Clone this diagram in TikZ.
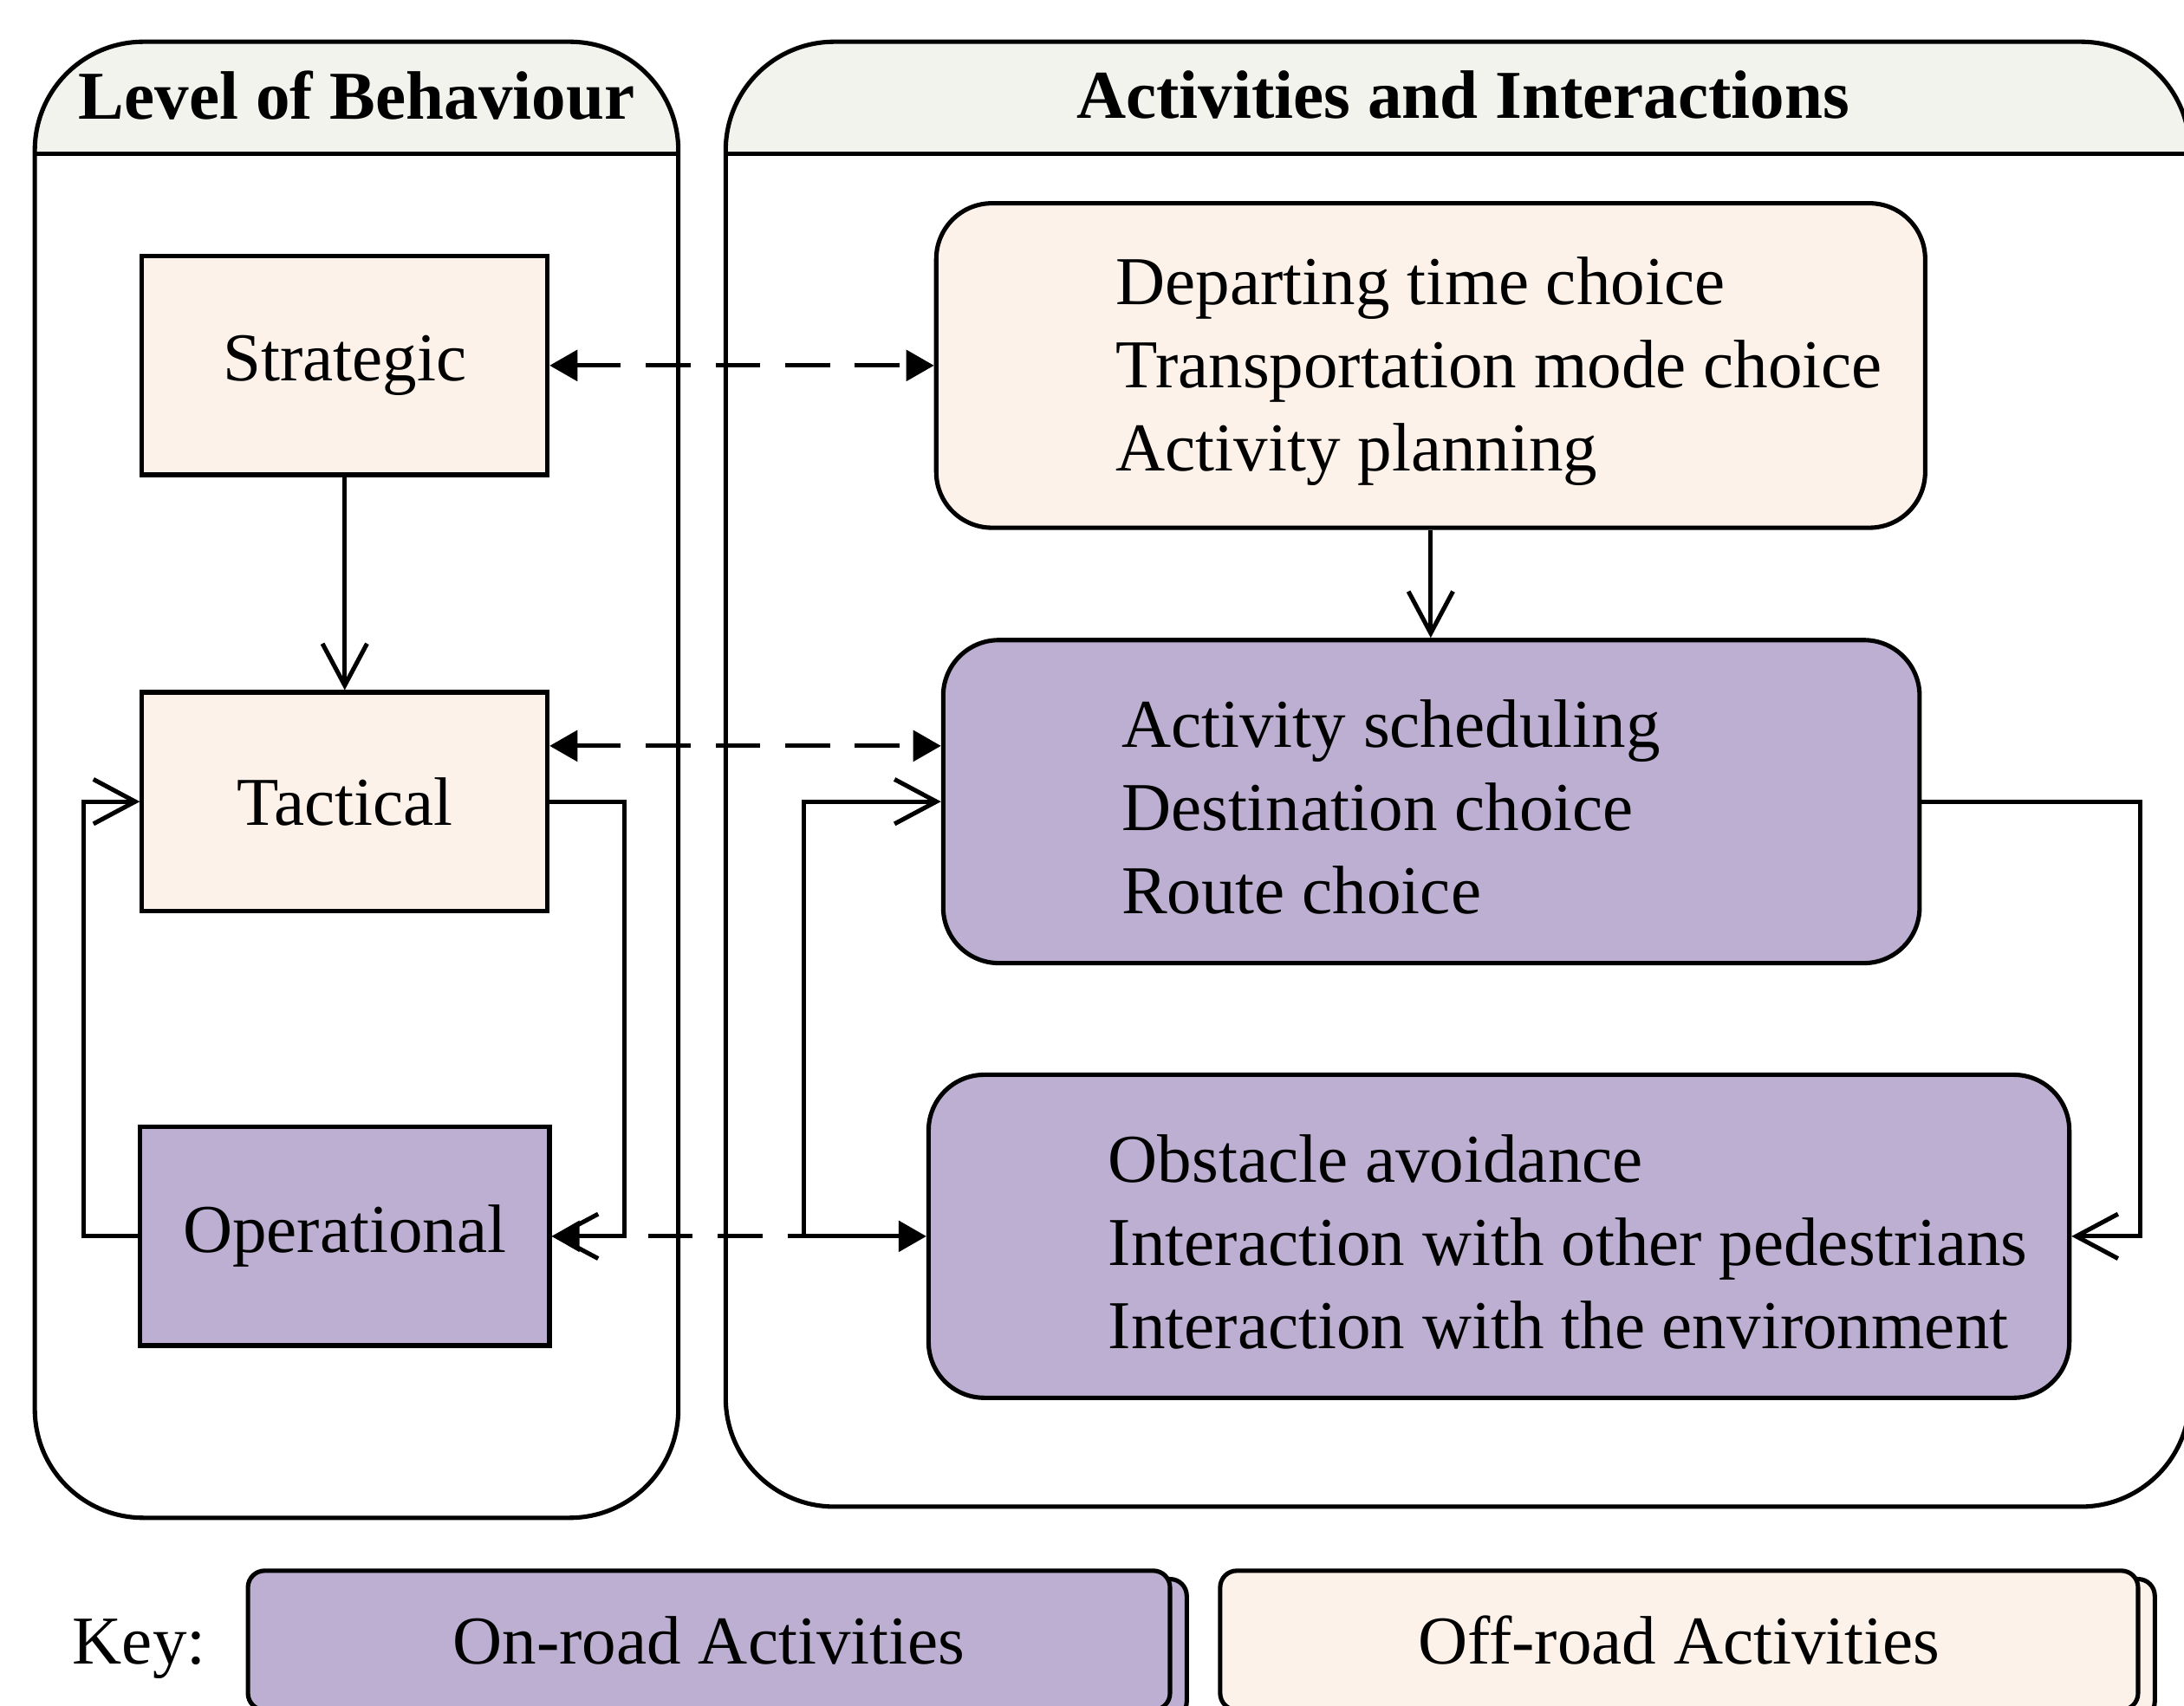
\documentclass[tikz,border=0pt]{standalone}
\usepackage{fontspec}
\setmainfont{Liberation Serif}
\usepackage{xcolor}
\usetikzlibrary{arrows.meta,positioning,calc,backgrounds,shadows}

\definecolor{offroad}{RGB}{253,242,233}
\definecolor{onroad}{RGB}{189,175,209}
\definecolor{hdrgrey}{RGB}{243,243,238}

\begin{document}
\begin{tikzpicture}[
  line width=0.9pt,
  font=\fontsize{14}{17}\selectfont,
  >={Triangle[length=2mm,width=2.2mm]},
  panel/.style={draw, rounded corners=0.78cm, inner sep=0pt},
  hdr/.style={font=\fontsize{14}{17}\selectfont\bfseries},
  lvl/.style={draw, minimum width=2.91cm, minimum height=1.57cm, inner sep=0pt},
  offlvl/.style={lvl, fill=offroad},
  onlvl/.style={lvl, fill=onroad},
  act/.style={draw, rounded corners=0.4cm, minimum height=2.32cm, inner sep=0pt},
  offact/.style={act, fill=offroad},
  onact/.style={act, fill=onroad},
  items/.style={align=left, inner sep=0pt, anchor=west},
  keybox/.style={draw, fill=#1, rounded corners=0.12cm, minimum height=1.0cm,
    copy shadow={shadow xshift=0.12cm, shadow yshift=-0.06cm, fill=#1, draw=black}},
  dashline/.style={dash pattern=on 0.32cm off 0.18cm},
  dasharr/.style={dashline, <->},
  oarr/.style={-{Straight Barb[length=3mm,width=3.2mm]}}
]
  \useasboundingbox (0,0) rectangle (15.68,-12.25);
  \clip (0,0) rectangle (15.68,-12.25);

  % the two columns
  \node[panel, minimum width=4.62cm, minimum height=10.60cm] (lvlpanel) at (2.56,-5.60) {};
  \node[panel, minimum width=10.51cm, minimum height=10.52cm] (actpanel) at (10.465,-5.56) {};
  \begin{scope}[on background layer]
    \begin{scope}
      \clip[rounded corners=0.78cm] (lvlpanel.south west) rectangle (lvlpanel.north east);
      \fill[hdrgrey] (lvlpanel.north west) rectangle ([yshift=-0.82cm]lvlpanel.north east);
    \end{scope}
    \begin{scope}
      \clip[rounded corners=0.78cm] (actpanel.south west) rectangle (actpanel.north east);
      \fill[hdrgrey] (actpanel.north west) rectangle ([yshift=-0.82cm]actpanel.north east);
    \end{scope}
  \end{scope}
  \draw ([yshift=-0.82cm]lvlpanel.north west) -- ([yshift=-0.82cm]lvlpanel.north east);
  \draw ([yshift=-0.82cm]actpanel.north west) -- ([yshift=-0.82cm]actpanel.north east);
  \node[hdr] (lvlhdr) at ([yshift=-0.40cm]lvlpanel.north) {Level of Behaviour};
  \node[hdr] (acthdr) at ([xshift=0.04cm, yshift=-0.40cm]actpanel.north) {Activities and Interactions};

  \node[offlvl] (strat) at (2.475,-2.625) {Strategic};
  \node[offlvl, below=1.53cm of strat] (tact) {Tactical};
  \node[onlvl, below=1.52cm of tact, minimum width=2.94cm] (oper) {Operational};

  \node[offact, minimum width=7.10cm, minimum height=2.33cm, right=2.76cm of strat] (plan) {};
  \node[onact, minimum width=7.01cm, right=2.81cm of tact] (sched) {};
  \node[onact, minimum width=8.19cm, right=2.69cm of oper] (obst) {};
  \node[items] (plantxt) at ([xshift=1.29cm, yshift=-0.04cm]plan.west) {Departing time choice\\Transportation mode choice\\Activity planning};
  \node[items] (schedtxt) at ([xshift=1.28cm, yshift=-0.04cm]sched.west) {Activity scheduling\\Destination choice\\Route choice};
  \node[items] (obsttxt) at ([xshift=1.29cm, yshift=-0.04cm]obst.west) {Obstacle avoidance\\Interaction with other pedestrians\\Interaction with the environment};

  \node (keylbl) at (1.00,-11.84) {Key:};
  \node[keybox=onroad, minimum width=6.62cm] (onkey) at (5.09,-11.78) {On-road Activities};
  \node[keybox=offroad, minimum width=6.59cm] (offkey) at (12.055,-11.78) {Off-road Activities};

  \coordinate[left=0.88cm of obst.west] (jn);

  \draw[dasharr] (strat.east) -- (strat.east -| plan.west);
  \draw[dasharr] ([yshift=0.4cm]tact.east) -- ([yshift=0.4cm]tact.east -| sched.west);
  \draw[dashline, <-] (oper.east) -- (jn);
  \draw[->] (jn) -- (obst.west);

  \draw[oarr] (strat) -- (tact);
  \draw[oarr] (tact.east) -- ++(0.54,0) |- (oper.east);
  \draw[oarr] (oper.west) -- ++(-0.39,0) |- (tact.west);
  \draw[oarr] (plan.south) -- (plan.south |- sched.north);
  \draw[oarr] (sched.east) -- ++(1.57,0) |- (obst.east);
  \draw[oarr] (jn) |- (sched.west);
\end{tikzpicture}
\end{document}
